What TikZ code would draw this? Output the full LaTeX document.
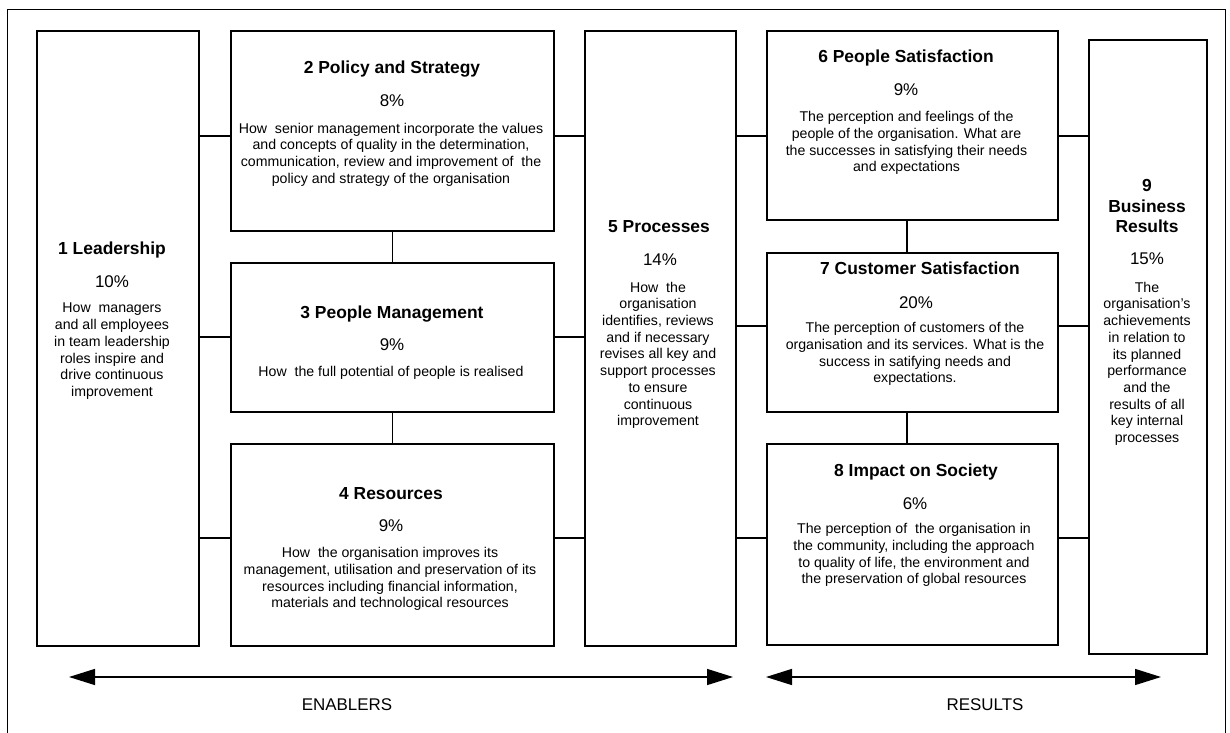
\documentclass[tikz,border=0pt]{standalone}
\usepackage{fontspec}
\setmainfont{Liberation Sans}
\usetikzlibrary{arrows.meta}
\begin{document}
\begin{tikzpicture}[x=1bp,y=-1bp,
  box/.style={draw, line width=1.4bp, inner sep=0pt, rectangle},
  link/.style={line width=1.4bp},
  ttl/.style={font=\fontsize{17.5}{21}\selectfont\bfseries, anchor=base, inner sep=0pt, align=center},
  pct/.style={font=\fontsize{17}{20}\selectfont, anchor=base, inner sep=0pt},
  body/.style={font=\fontsize{14.2}{16.8}\selectfont, anchor=base, inner sep=0pt, align=center},
  flow/.style={line width=1.4bp, {Triangle[length=26bp,width=16bp]}-{Triangle[length=26bp,width=16bp]}},
  lbl/.style={font=\fontsize{17}{20}\selectfont, anchor=base, inner sep=0pt}
]
\useasboundingbox (0,0) rectangle (1230,733);
\draw[line width=0.9bp] (7,9) rectangle (1225,760);

% boxes
\node[box, minimum width=162bp, minimum height=615bp] (b1) at (118,338.5) {};
\node[box, minimum width=323bp, minimum height=200bp] (b2) at (392.5,131) {};
\node[box, minimum width=323bp, minimum height=149bp] (b3) at (392.5,337.5) {};
\node[box, minimum width=323bp, minimum height=202bp] (b4) at (392.5,545) {};
\node[box, minimum width=151bp, minimum height=615bp] (b5) at (660.5,338.5) {};
\node[box, minimum width=291bp, minimum height=189bp] (b6) at (912.5,125.5) {};
\node[box, minimum width=291bp, minimum height=159bp] (b7) at (912.5,332.5) {};
\node[box, minimum width=291bp, minimum height=201bp] (b8) at (912.5,544.5) {};
\node[box, minimum width=118bp, minimum height=614bp] (b9) at (1148,347) {};

% texts (anchor base = baseline of the last line)
\node[ttl] (t1) at (112,254.3) {1 Leadership};
\node[pct] (p1) at (112,287) {10\%};
\node[body] (d1) at (112,396.5) {How~ managers\\and all employees\\in team leadership\\roles inspire and\\drive continuous\\improvement};

\node[ttl] (t2) at (392,73.5) {2 Policy and Strategy};
\node[pct] (p2) at (392,107) {8\%};
\node[body] (d2) at (391,183.4) {How~ senior management incorporate the values\\and concepts of quality in the determination,\\communication, review and improvement of~ the\\policy and strategy of the organisation};

\node[ttl] (t3) at (392,318) {3 People Management};
\node[pct] (p3) at (392,350) {9\%};
\node[body] (d3) at (391,376.5) {How~ the full potential of people is realised};

\node[ttl] (t4) at (391,499) {4 Resources};
\node[pct] (p4) at (391,531) {9\%};
\node[body] (d4) at (390,607.9) {How~ the organisation improves its\\management, utilisation and preservation of its\\resources including financial information,\\materials and technological resources};

\node[ttl] (t5) at (659,233) {5 Processes};
\node[pct] (p5) at (660,265) {14\%};
\node[body] (d5) at (658,425.9) {How~ the\\organisation\\identifies, reviews\\and if necessary\\revises all key and\\support processes\\to ensure\\continuous\\improvement};

\node[ttl] (t6) at (906,63) {6 People Satisfaction};
\node[pct] (p6) at (906,96) {9\%};
\node[body] (d6) at (906.5,171.9) {The perception and feelings of the\\people of the organisation. What are\\the successes in satisfying their needs\\and expectations};

\node[ttl] (t7) at (920,274) {7 Customer Satisfaction};
\node[pct] (p7) at (916,308) {20\%};
\node[body] (d7) at (915,382.9) {The perception of customers of the\\organisation and its services. What is the\\success in satifying needs and\\expectations.};

\node[ttl] (t8) at (916,476) {8 Impact on Society};
\node[pct] (p8) at (915,509) {6\%};
\node[body] (d8) at (914,583.9) {The perception of~ the organisation in\\the community, including the approach\\to quality of life, the environment and\\the preservation of global resources};

\node[ttl] (t9) at (1147,233) {9\\Business\\Results};
\node[pct] (p9) at (1147,264) {15\%};
\node[body] (d9) at (1147,442.7) {The\\organisation's\\achievements\\in relation to\\its planned\\performance\\and the\\results of all\\key internal\\processes};

% connector levels
\coordinate (h1) at (0,136);
\coordinate (h2) at (0,337);
\coordinate (h2r) at (0,326);
\coordinate (h3) at (0,538);
\coordinate (v6) at (907,0);

\draw[link] (b1.east |- h1) -- (b2.west |- h1);
\draw[link] (b1.east |- h2) -- (b3.west |- h2);
\draw[link] (b1.east |- h3) -- (b4.west |- h3);
\draw[link] (b2.east |- h1) -- (b5.west |- h1);
\draw[link] (b3.east |- h2) -- (b5.west |- h2);
\draw[link] (b4.east |- h3) -- (b5.west |- h3);
\draw[link] (b5.east |- h1) -- (b6.west |- h1);
\draw[link] (b5.east |- h2r) -- (b7.west |- h2r);
\draw[link] (b5.east |- h3) -- (b8.west |- h3);
\draw[link] (b6.east |- h1) -- (b9.west |- h1);
\draw[link] (b7.east |- h2r) -- (b9.west |- h2r);
\draw[link] (b8.east |- h3) -- (b9.west |- h3);
\draw[link] (b2.south) -- (b3.north);
\draw[link] (b3.south) -- (b4.north);
\draw[link] (b6.south -| v6) -- (b7.north -| v6);
\draw[link] (b7.south -| v6) -- (b8.north -| v6);

% bottom arrows
\coordinate (e1) at (69,677);
\coordinate (e2) at (733,677);
\coordinate (r1) at (766,677);
\coordinate (r2) at (1161,677);
\draw[flow] (e1) -- (e2);
\draw[flow] (r1) -- (r2);
\node[lbl] (enab) at (347,710) {ENABLERS};
\node[lbl] (res) at (985,710) {RESULTS};
\end{tikzpicture}
\end{document}
